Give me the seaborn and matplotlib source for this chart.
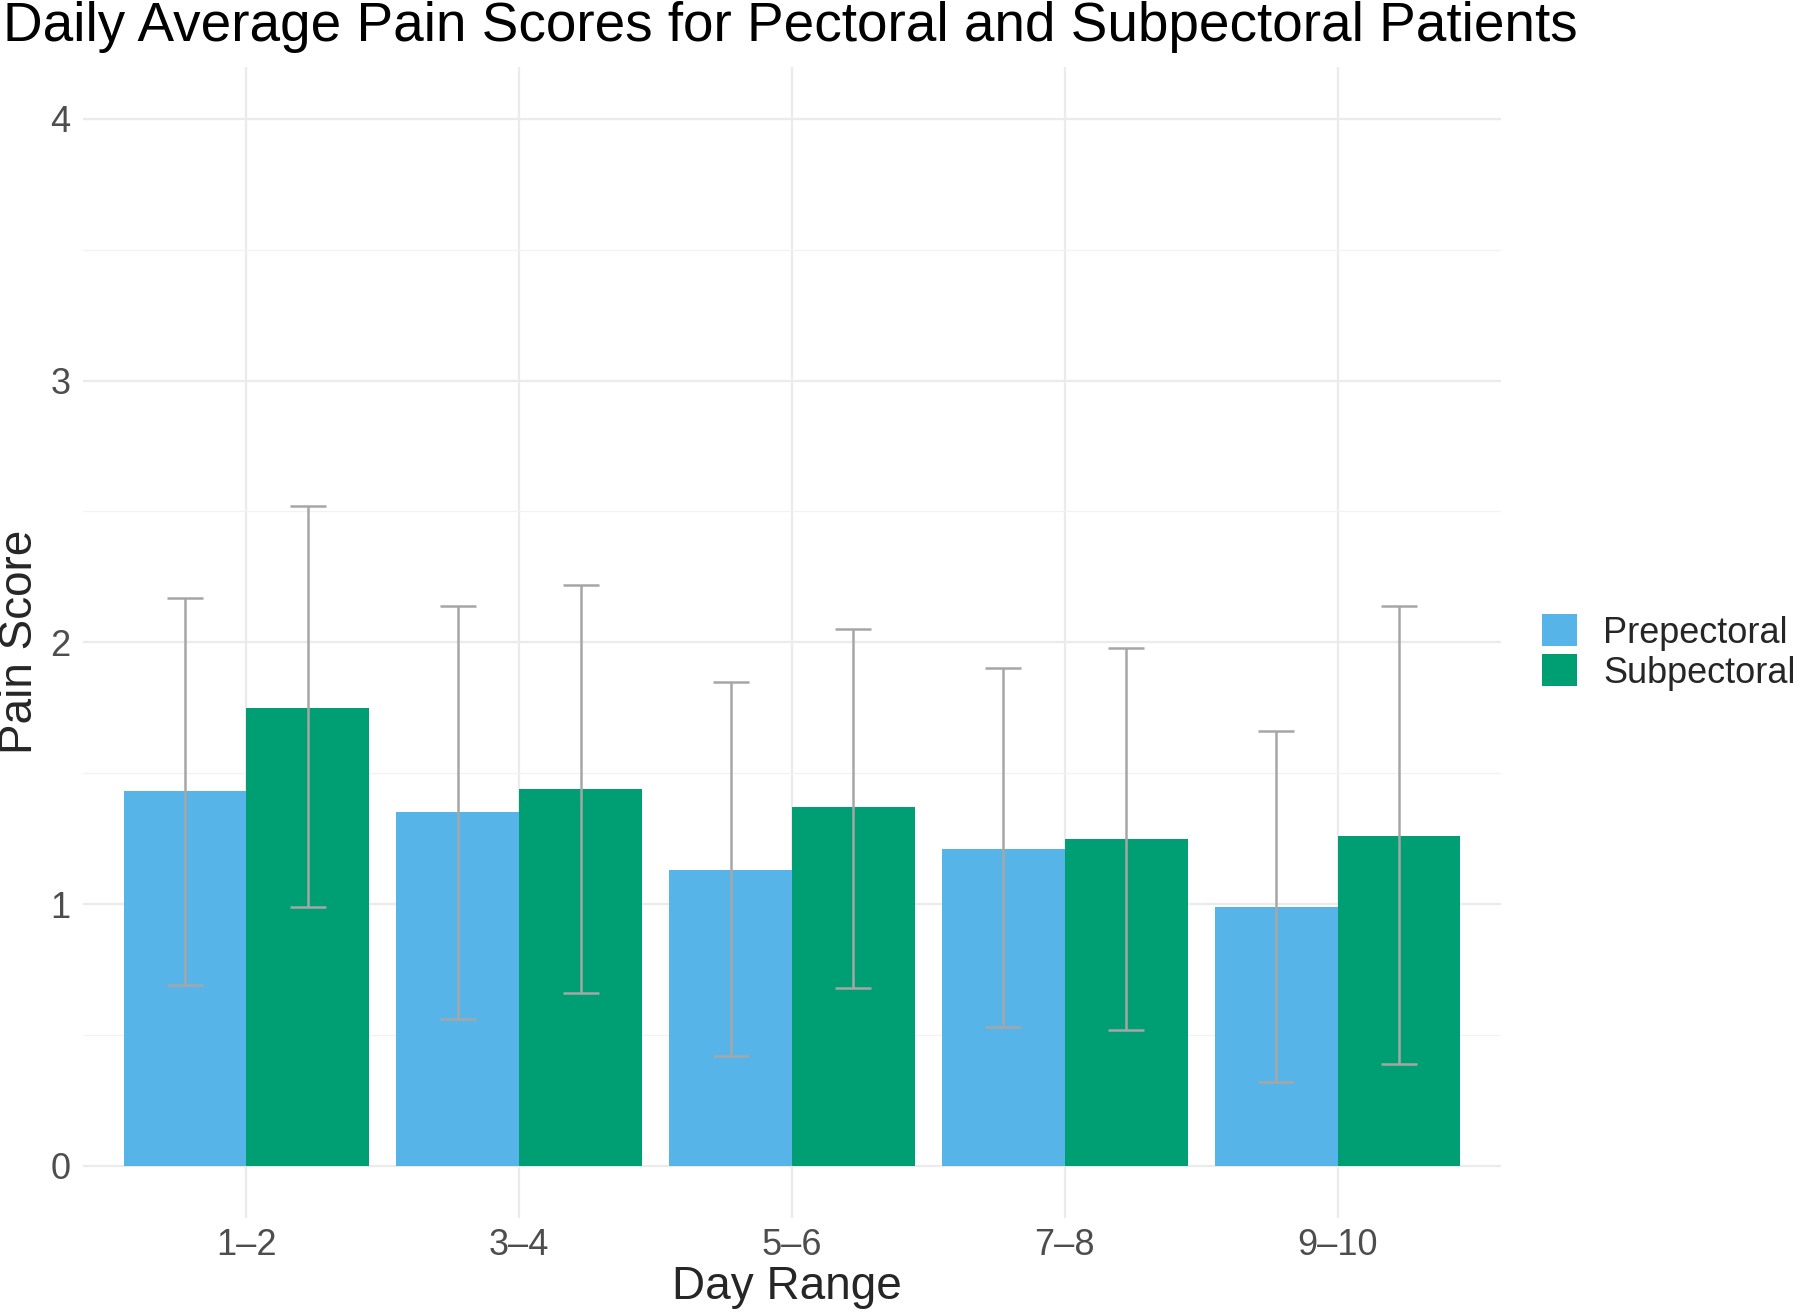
import matplotlib
matplotlib.use("Agg")
import matplotlib.pyplot as plt
import seaborn as sns
import pandas as pd
from matplotlib.patches import Patch
from matplotlib.ticker import MultipleLocator

# ---- data ----
day_ranges = ["1–2", "3–4", "5–6", "7–8", "9–10"]
groups = ["Prepectoral", "Subpectoral"]
pre_mean = [1.43, 1.35, 1.13, 1.21, 0.99]
pre_low = [0.69, 0.56, 0.42, 0.53, 0.32]
pre_high = [2.17, 2.14, 1.85, 1.90, 1.66]
sub_mean = [1.75, 1.44, 1.37, 1.25, 1.26]
sub_low = [0.99, 0.66, 0.68, 0.52, 0.39]
sub_high = [2.52, 2.22, 2.05, 1.98, 2.14]
y_ticks = [0, 1, 2, 3, 4]
colors = ["#56B4E9", "#009E73"]

df = pd.DataFrame({
    "Day Range": day_ranges * 2,
    "Group": [groups[0]] * len(day_ranges) + [groups[1]] * len(day_ranges),
    "Pain Score": pre_mean + sub_mean,
    "low": pre_low + sub_low,
    "high": pre_high + sub_high,
})

sns.set_theme(style="white")
plt.rcParams["font.family"] = ["Liberation Sans", "DejaVu Sans"]

fig = plt.figure(figsize=(18, 13.13), dpi=100)
ax = fig.add_axes([0.046, 0.0723, 0.788, 0.877])

sns.barplot(data=df, x="Day Range", y="Pain Score", hue="Group",
            order=day_ranges, hue_order=groups, palette=colors,
            errorbar=None, width=0.9, gap=0, linewidth=0,
            saturation=1, ax=ax, legend=False, zorder=2)

# error bars positioned from the bar patches
for cont, g in zip(ax.containers, groups):
    sub = df[df["Group"] == g].set_index("Day Range").loc[day_ranges]
    xs = [p.get_x() + p.get_width() / 2 for p in cont.patches]
    means = sub["Pain Score"].values
    lo = means - sub["low"].values
    hi = sub["high"].values - means
    ax.errorbar(xs, means, yerr=[lo, hi], fmt="none", ecolor="#A6A6A6",
                elinewidth=1.8, capsize=13, capthick=1.8, zorder=3)

ax.set_xlim(-0.6, 4.6)
ax.set_ylim(-0.2, 4.2)
ax.set_yticks(y_ticks)
ax.yaxis.set_minor_locator(MultipleLocator(0.5))
ax.grid(True, which="major", axis="both", color="#EBEBEB", linewidth=1.6, zorder=0)
ax.grid(True, which="minor", axis="y", color="#F2F2F2", linewidth=0.9, zorder=0)
ax.set_axisbelow(True)
for s in ax.spines.values():
    s.set_visible(False)
ax.tick_params(axis="both", which="both", length=0, labelsize=26, labelcolor="#4D4D4D")
ax.tick_params(axis="x", pad=7)
ax.tick_params(axis="y", pad=9)
ax.set_xlabel("")
ax.set_ylabel("")

fig.text(0.0015, 1 - 41 / 1313, "Daily Average Pain Scores for Pectoral and Subpectoral Patients",
         fontsize=39.5, color="black", ha="left", va="baseline")
fig.text(0.437, 0.0195, "Day Range", fontsize=33, ha="center", va="center")
fig.text(20 / 1800, 0.511, "Pain Score", fontsize=33, rotation=90, ha="center", va="center")

handles = [Patch(facecolor=c, edgecolor="none", label=g) for c, g in zip(colors, groups)]
fig.legend(handles=handles, loc="center left", bbox_to_anchor=(1542 / 1800, 0.503),
           frameon=False, fontsize=26, borderaxespad=0, borderpad=0,
           handlelength=0.98, handleheight=0.98, handletextpad=0.72, labelspacing=0.1)

fig.savefig("out.png", dpi=100)
